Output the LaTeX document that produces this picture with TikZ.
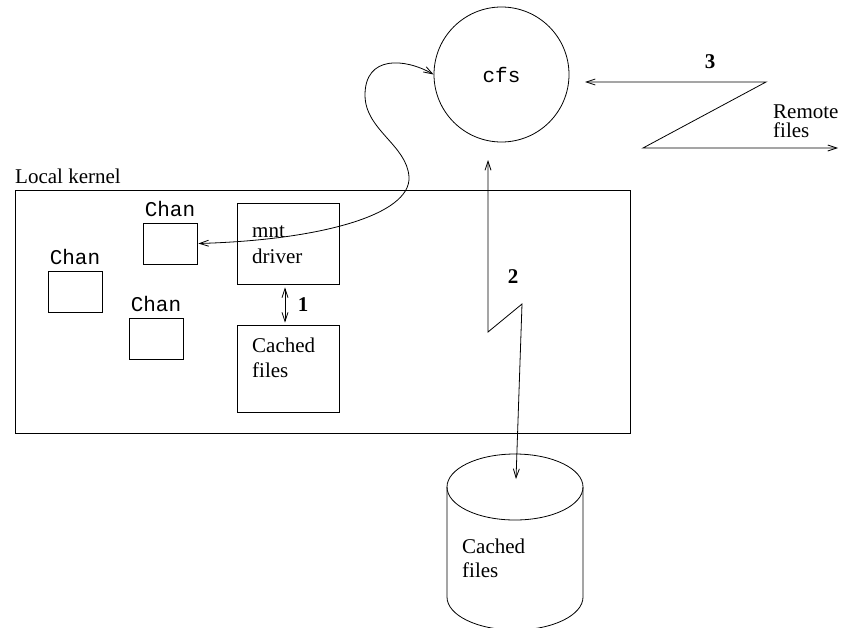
\documentclass[tikz,border=0pt]{standalone}
\usepackage{fontspec}
\setmainfont{Liberation Serif}
\setmonofont{Liberation Mono}
\usetikzlibrary{arrows.meta}

\tikzset{
  ln/.style={line width=0.8pt},
  box/.style={draw, ln, rectangle, inner sep=0pt},
  txt/.style={font=\fontsize{21}{25}\selectfont, inner sep=0pt},
  mono/.style={font=\fontsize{21}{25}\selectfont\ttfamily, inner sep=0pt},
  num/.style={font=\fontsize{21}{25}\selectfont\bfseries, inner sep=0pt},
  arr/.style={ln, -{Straight Barb[length=9pt,width=6pt]}},
  darr/.style={ln, {Straight Barb[length=9pt,width=6pt]}-{Straight Barb[length=9pt,width=6pt]}},
}

\begin{document}
\begin{tikzpicture}[x=1pt, y=-1pt]
\useasboundingbox (0,0) rectangle (842,627);
\clip (0,0) rectangle (842,627);

% cache file server
\node[draw, ln, circle, minimum size=135pt, inner sep=0pt, mono] (cfs) at (501.5,74.5) {cfs};

% local kernel and its channels
\node[box, minimum width=615pt, minimum height=243pt] (kernel) at (322.5,311.5) {};
\node[txt, anchor=base west] at (15,183) {Local kernel};

\node[box, minimum width=54pt, minimum height=41pt] (chan1) at (170,243.5) {};
\node[box, minimum width=54pt, minimum height=41pt] (chan2) at (75,291.5) {};
\node[box, minimum width=54pt, minimum height=41pt] (chan3) at (156,338.5) {};
\node[mono, anchor=base] at ([yshift=6pt]chan1.north) {Chan};
\node[mono, anchor=base] at ([yshift=6pt]chan2.north) {Chan};
\node[mono, anchor=base] at ([yshift=6pt]chan3.north) {Chan};

\node[box, minimum width=102pt, minimum height=81pt] (mnt) at (288,243.5) {};
\node[txt, anchor=base west] at (252,237) {mnt};
\node[txt, anchor=base west] at (252,263) {driver};

\node[box, minimum width=102pt, minimum height=87pt] (cached) at (288,368.5) {};
\node[txt, anchor=base west] at (252,352) {Cached};
\node[txt, anchor=base west] at (252,377) {files};

% local disk cache
\coordinate (disk) at (515,487);
\draw[ln] (disk) ellipse [x radius=68pt, y radius=33pt];
\draw[ln] ([xshift=-68pt]disk) -- ++(0,110)
  arc [start angle=180, end angle=360, x radius=68pt, y radius=33pt]
  -- ([xshift=68pt]disk);
\node[txt, anchor=base west] at (462,553) {Cached};
\node[txt, anchor=base west] at (462,577) {files};

% mount driver talks to cfs
\draw[darr] ([xshift=1pt]chan1.east) .. controls (320,240) and (411,215) .. (409,177)
  .. controls (407,145) and (365,130) .. (365,95)
  .. controls (365,55) and (405,58) .. (cfs.west);

% path 1: kernel cache
\draw[darr] ([xshift=-3pt,yshift=-3pt]mnt.south) -- ([xshift=-3pt,yshift=2pt]cached.north);
\node[num] at (303,305) {1};

% path 2: disk cache
\coordinate (p2top) at (488,160);
\coordinate (p2bot) at (516,479);
\draw[darr] (p2top) -- (488,332) -- (522,304) -- (p2bot);
\node[num] at (513,277) {2};

% path 3: remote files
\coordinate (p3in) at (585,82);
\coordinate (p3out) at (838,148);
\draw[darr] (p3in) -- (766,82) -- (643,148) -- (p3out);
\node[num] at (710,62) {3};
\node[txt, anchor=base west] at (773,118) {Remote};
\node[txt, anchor=base west] at (773,137) {files};
\end{tikzpicture}
\end{document}
